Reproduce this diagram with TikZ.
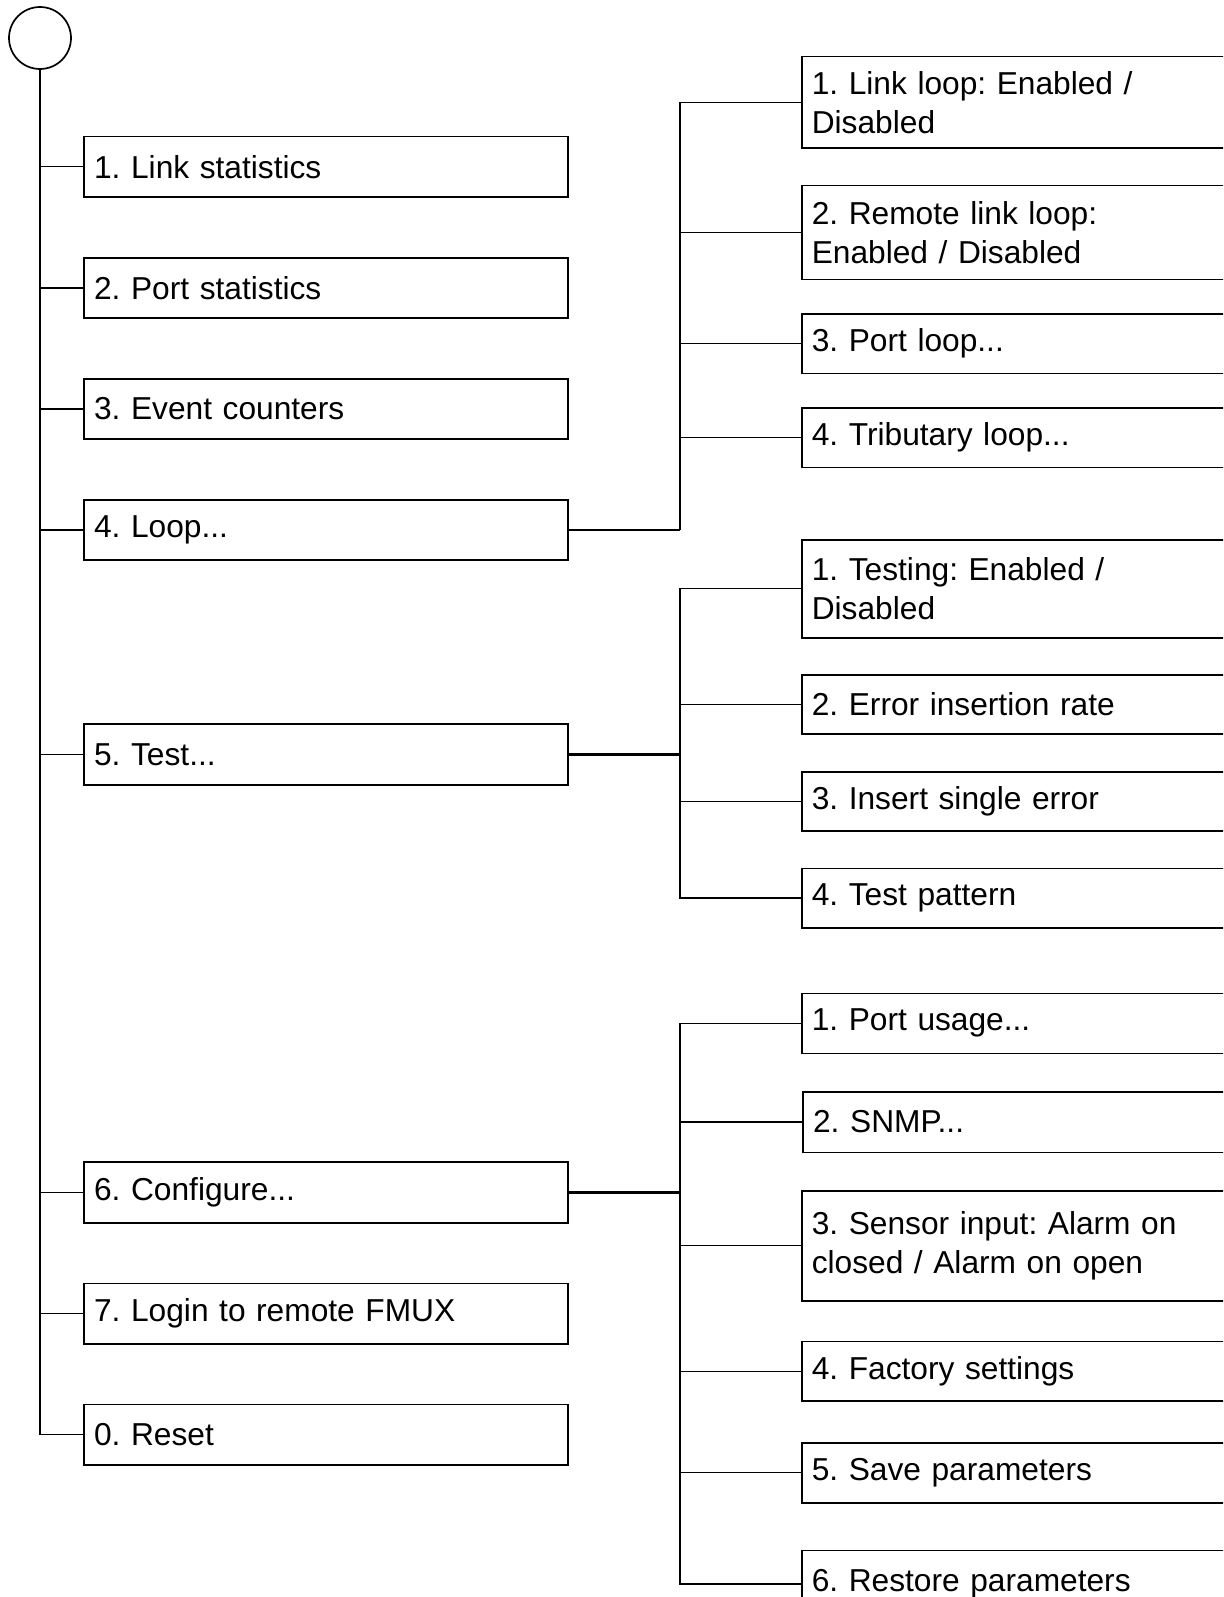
\documentclass[tikz,border=0pt]{standalone}
\usepackage{fontspec}
\setmainfont{Liberation Sans}
\frenchspacing
\begin{document}
\begin{tikzpicture}[x=1pt, y=-1pt,
  menubox/.style={draw, line width=1.6pt, anchor=west, align=left,
    inner xsep=10pt, inner ysep=0pt, minimum height=60.5pt,
    font=\fontsize{31.7}{38.5}\selectfont},
  leftbox/.style={menubox, text width=463.7pt},
  rightbox/.style={menubox, text width=430pt},
  conn/.style={line width=1.4pt},
  trunk/.style={line width=2.6pt},
]
\useasboundingbox (0,0) rectangle (1223,1597);
\clip (0,0) rectangle (1223,1597);

% root of the menu tree
\node[circle, draw, line width=1.7pt, minimum size=62pt, inner sep=0pt] (root) at (40,38) {};

% main menu
\node[leftbox] (b1) at (83.3,166.7)  {1. Link statistics};
\node[leftbox] (b2) at (83.3,288)    {2. Port statistics};
\node[leftbox] (b3) at (83.3,409)    {3. Event counters};
\node[leftbox] (b4) at (83.3,530)    {4. Loop...};
\node[leftbox] (b5) at (83.3,754.5)  {5. Test...};
\node[leftbox] (b6) at (83.3,1192.5) {6. Configure...};
\node[leftbox] (b7) at (83.3,1313.7) {7. Login to remote FMUX};
\node[leftbox] (b0) at (83.3,1434.7) {0. Reset};

% loop submenu
\node[rightbox, minimum height=91.6pt] (l1) at (801,102.5) {1. Link loop: Enabled /\\Disabled};
\node[rightbox, minimum height=93.6pt] (l2) at (801,232.5) {2. Remote link loop:\\Enabled / Disabled};
\node[rightbox, minimum height=59.3pt] (l3) at (801,343.7) {3. Port loop...};
\node[rightbox, minimum height=59.6pt] (l4) at (801,437.5) {4. Tributary loop...};

% test submenu
\node[rightbox, minimum height=98pt]   (t1) at (801,588.7) {1. Testing: Enabled /\\Disabled};
\node[rightbox, minimum height=59.3pt] (t2) at (801,704.6) {2. Error insertion rate};
\node[rightbox, minimum height=59.3pt] (t3) at (801,801.4) {3. Insert single error};
\node[rightbox, minimum height=59.4pt] (t4) at (801,898)   {4. Test pattern};

% configure submenu
\node[rightbox, minimum height=60pt]   (c1) at (801,1023.3)   {1. Port usage...};
\node[rightbox, minimum height=60.6pt] (c2) at (802.3,1122)   {2. SNMP...};
\node[rightbox, minimum height=110pt]  (c3) at (801,1245.7)   {3. Sensor input: Alarm on\\closed / Alarm on open};
\node[rightbox, minimum height=59.3pt] (c4) at (801,1371.3)   {4. Factory settings};
\node[rightbox, minimum height=60pt]   (c5) at (801,1472.7)   {5. Save parameters};
\node[rightbox, minimum height=66.8pt] (c6) at (801,1584)     {6. Restore parameters};

% column of the submenu junctions
\coordinate (jcol) at (680,0);

% main trunk and its branches
\draw[trunk] (root.south) -- (root.south |- b7.west);
\draw[conn] (root.south |- b7.west) -- (root.south |- b0.west);
\foreach \b in {b1,b2,b3,b4,b5,b6,b7,b0}
  \draw[conn] (root.south |- \b.west) -- (\b.west);

% submenu connectors
\foreach \p/\kids in {b4/{l1,l2,l3,l4}, b5/{t1,t2,t3,t4}, b6/{c1,c2,c3,c4,c5,c6}} {
  \draw[trunk] (\p.east) -- (\p.east -| jcol);
  \foreach \k in \kids
    \draw[conn] (\p.east -| jcol) |- (\k.west);
}
\end{tikzpicture}
\end{document}
